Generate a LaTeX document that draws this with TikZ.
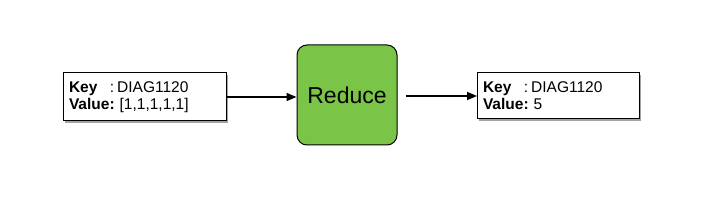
\documentclass[tikz,border=0pt]{standalone}
\usepackage{fontspec}
\setmainfont{Liberation Sans}
\usetikzlibrary{arrows.meta, shadows}
\definecolor{reduce-green}{RGB}{122,197,72}
\definecolor{shadow-gray}{RGB}{140,140,140}

\begin{document}
\begin{tikzpicture}[
  x=1pt, y=-1pt,
  kvbox/.style={draw, fill=white, line width=1pt, align=left, inner xsep=5.5pt, inner ysep=4pt, anchor=west,
    font=\fontsize{15.5}{17}\selectfont, text width=152pt, minimum height=48pt,
    drop shadow={shadow xshift=1.5pt, shadow yshift=-2pt, fill=shadow-gray, opacity=0.8}},
  opbox/.style={draw, fill=reduce-green, rounded corners=10pt, line width=1pt,
    minimum width=100pt, minimum height=100pt, font=\fontsize{23}{26}\selectfont},
  flow/.style={-{Triangle[length=10pt, width=8pt]}, line width=1.6pt},
]
  \useasboundingbox (0,0) rectangle (711,216);

  % Input pair
  \node[kvbox] (input) at (63,97) {\textbf{Key}\hspace{12.5pt}:\hspace{3pt}DIAG1120\\\textbf{Value:}\hspace{5pt}[1,1,1,1,1]};

  % Reducer
  \node[opbox] (reduce) at (347,95) {Reduce};

  % Output pair
  \node[kvbox, text width=151pt, minimum height=46pt] (output) at (477,96) {\textbf{Key}\hspace{12.5pt}:\hspace{3pt}DIAG1120\\\textbf{Value:}\hspace{5pt}5};

  % Arrows
  \draw[flow] (input.east) -- (input.east -| reduce.west);
  \draw[flow, shorten <=8pt] (reduce.east |- output.west) -- (output.west);
\end{tikzpicture}
\end{document}
